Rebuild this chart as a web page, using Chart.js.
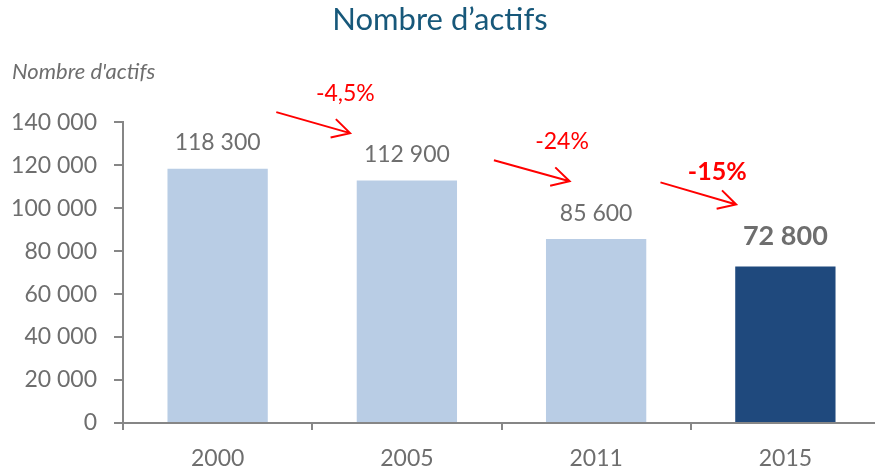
<!DOCTYPE html>
<html>
<head>
<meta charset="utf-8">
<script src="https://cdn.jsdelivr.net/npm/chart.js@4"></script>
<style>
  html, body { margin: 0; padding: 0; background: #fff; overflow: hidden; }
  #wrap { width: 880px; height: 473px; }
</style>
</head>
<body>
<div id="wrap"><canvas id="barChart"></canvas></div>
<script>
// donnees
const years = ["2000", "2005", "2011", "2015"];
const actifs = [118300, 112900, 85600, 72800];
const changeLabels = ["-4,5%", "-24%", "-15%"];
const axisLabel = "Nombre d'actifs";

const barColors = ["#B9CDE5", "#B9CDE5", "#B9CDE5", "#1F497D"];
const gray = "#6E6E6E";

// fleches rouges entre les barres (index de categorie, valeur)
const arrows = [
  { from: [0.31, 144700], to: [0.70, 134900], text: [0.675, 153100], bold: false },
  { from: [1.46, 122300], to: [1.86, 112500], text: [1.82, 130900], bold: false },
  { from: [2.34, 112000], to: [2.74, 101700], text: [2.64, 116700], bold: true },
];

const fmt = (v) => String(v).replace(/\B(?=(\d{3})+(?!\d))/g, " ");

const valueLabels = {
  id: "valueLabels",
  afterDatasetsDraw(chart) {
    const ctx = chart.ctx;
    const meta = chart.getDatasetMeta(0);
    ctx.save();
    ctx.textAlign = "center";
    ctx.textBaseline = "middle";
    meta.data.forEach((bar, i) => {
      const last = i === meta.data.length - 1;
      ctx.font = last ? "bold 27px Lato" : "23px Lato";
      ctx.fillStyle = gray;
      ctx.fillText(fmt(actifs[i]), bar.x, bar.y - (last ? 30 : 26));
    });
    // titre de l'axe vertical, horizontal en haut a gauche
    ctx.font = "italic 22px Lato";
    ctx.textAlign = "left";
    ctx.fillText(axisLabel, 12, 72);
    ctx.restore();
  },
};

const changeArrows = {
  id: "changeArrows",
  afterDatasetsDraw(chart) {
    const ctx = chart.ctx;
    const x = chart.scales.x;
    const y = chart.scales.y;
    const px = (p) => [x.getPixelForValue(p[0]), y.getPixelForValue(p[1])];
    ctx.save();
    ctx.strokeStyle = "#FF0000";
    ctx.fillStyle = "#FF0000";
    ctx.lineWidth = 2;
    arrows.forEach((a, i) => {
      const [x0, y0] = px(a.from);
      const [x1, y1] = px(a.to);
      ctx.beginPath();
      ctx.moveTo(x0, y0);
      ctx.lineTo(x1, y1);
      const ang = Math.atan2(y1 - y0, x1 - x0);
      const len = 20, spread = 0.5;
      ctx.moveTo(x1 - len * Math.cos(ang - spread), y1 - len * Math.sin(ang - spread));
      ctx.lineTo(x1, y1);
      ctx.lineTo(x1 - len * Math.cos(ang + spread), y1 - len * Math.sin(ang + spread));
      ctx.stroke();
      const [tx, ty] = px(a.text);
      ctx.font = a.bold ? "bold 25px Lato" : "23px Lato";
      ctx.textAlign = "center";
      ctx.textBaseline = "middle";
      ctx.fillText(changeLabels[i], tx, ty);
    });
    ctx.restore();
  },
};

new Chart(document.getElementById("barChart"), {
  type: "bar",
  data: {
    labels: years,
    datasets: [
      {
        label: "Nombre d'actifs",
        data: actifs,
        backgroundColor: barColors,
        borderWidth: 0,
        categoryPercentage: 1,
        barPercentage: 0.53,
      },
    ],
  },
  options: {
    responsive: true,
    maintainAspectRatio: false,
    animation: false,
    layout: { padding: { left: 0, right: 0, top: 0, bottom: 0 } },
    plugins: {
      legend: { display: false },
      tooltip: { enabled: false },
      title: {
        display: true,
        text: "Nombre d’actifs",
        color: "#17587A",
        font: { family: "Lato", size: 31, weight: "normal", lineHeight: 1.2 },
        padding: { top: 1, bottom: 84 },
      },
    },
    scales: {
      x: {
        afterFit: (s) => { s.height = 50; },
        grid: { drawOnChartArea: false, drawTicks: true, tickLength: 7, color: "#868686", lineWidth: 2 },
        border: { display: true, color: "#868686", width: 2 },
        ticks: { color: gray, font: { family: "Lato", size: 23 }, padding: 15 },
      },
      y: {
        min: 0,
        max: 140000,
        afterFit: (s) => { s.width = 123; },
        grid: { drawOnChartArea: false, drawTicks: true, tickLength: 9, color: "#868686", lineWidth: 2 },
        border: { display: true, color: "#868686", width: 2 },
        ticks: {
          stepSize: 20000,
          color: gray,
          font: { family: "Lato", size: 23 },
          padding: 17,
          callback: (v) => fmt(v),
        },
      },
    },
  },
  plugins: [valueLabels, changeArrows],
});
</script>
</body>
</html>
